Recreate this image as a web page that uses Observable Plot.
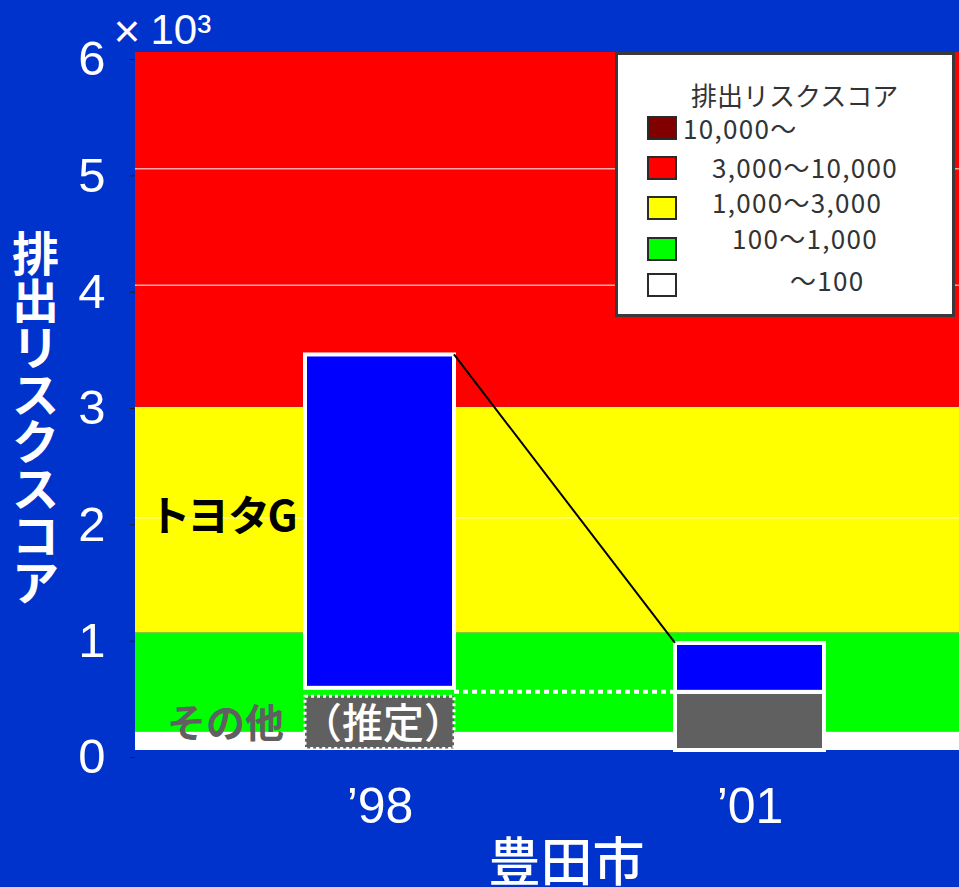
<!DOCTYPE html>
<html>
<head>
<meta charset="utf-8">
<script src="https://cdn.jsdelivr.net/npm/d3@7"></script>
<script src="https://cdn.jsdelivr.net/npm/@observablehq/plot@0.6"></script>
<style>
html, body { margin: 0; padding: 0; background: #0033cc; overflow: hidden; }
#wrap { position: relative; width: 959px; height: 887px; overflow: hidden; }
#legend { position: absolute; left: 615px; top: 52px; width: 340px; height: 265px; box-sizing: border-box;
  background: #ffffff; border: 3px solid #3a3a3a; font-family: "Noto Sans CJK JP", sans-serif; color: #333; font-size: 26px; }
#legend .t { position: absolute; line-height: 30px; white-space: nowrap; }
#legend .t.item { letter-spacing: 1.3px; }
#legend .sw { position: absolute; width: 30px; height: 24px; box-sizing: border-box; border: 2px solid #2a2a2a; }
svg text.palt { font-feature-settings: "palt" 1; }
</style>
</head>
<body>
<div id="wrap"></div>
<script>
// ---- data ----
const years = ["’98", "’01"];
const otherScore = [0.50, 0.50];     // その他 (×10³)
const toyotaScore = [2.90, 0.42];    // トヨタG (×10³)
const estimated = [true, false];
const bandLower = [0, 0.16, 1.01, 2.95];
const bandUpper = [0.16, 1.01, 2.95, 6];
const bandColors = ["#ffffff", "#00ff00", "#ffff00", "#ff0000"];
const yTicks = [0, 1, 2, 3, 4, 5, 6];
const gridValues = [2, 4, 5];
const yTitle = "排出リスクスコア";
const xTitle = "豊田市";
const unitTimes = "×";
const unitBase = "10³";
const legendTitle = "排出リスクスコア";
const legendLabels = ["10,000～", "3,000～10,000", "1,000～3,000", "100～1,000", "～100"];
const legendColors = ["#800000", "#ff0000", "#ffff00", "#00ff00", "#ffffff"];

const rows = years.map((year, i) => ({
  year, other: otherScore[i], toyota: toyotaScore[i],
  total: otherScore[i] + toyotaScore[i], estimated: estimated[i]
}));
const bands = bandLower.map((lo, i) => ({lo, hi: bandUpper[i], color: bandColors[i]}));
const est = rows.filter(d => d.estimated);
const meas = rows.filter(d => !d.estimated);

const bw = s => (typeof s.bandwidth === "function" ? s.bandwidth() : s.bandwidth);

const otherLink = (index, {x, y}) => {
  const a = rows[0], b = rows[1];
  return d3.create("svg:line")
    .attr("x1", x(a.year) + bw(x)).attr("y1", y(a.other))
    .attr("x2", x(b.year)).attr("y2", y(b.other))
    .attr("stroke", "white").attr("stroke-width", 4).attr("stroke-dasharray", "5,4").node();
};
const totalLink = (index, {x, y}) => {
  const a = rows[0], b = rows[1];
  return d3.create("svg:line")
    .attr("x1", x(a.year) + bw(x)).attr("y1", y(a.total))
    .attr("x2", x(b.year)).attr("y2", y(b.total))
    .attr("stroke", "black").attr("stroke-width", 2).node();
};

const jp = "Noto Sans CJK JP, sans-serif";

const chart = Plot.plot({
  width: 959, height: 887,
  marginLeft: 135, marginRight: 0, marginTop: 52, marginBottom: 137,
  style: {background: "#0033cc", fontFamily: "Liberation Sans, Arial, sans-serif", overflow: "visible"},
  x: {type: "band", domain: years, range: [135, 993], paddingInner: 0.598, paddingOuter: 0.4555, align: 0.5},
  y: {domain: [0, 6]},
  color: {type: "identity"},
  marks: [
    Plot.rect(bands, {y1: "lo", y2: "hi", fill: "color"}),
    Plot.ruleY(gridValues, {stroke: "white", strokeWidth: 1}),
    otherLink,
    Plot.barY(est, {x: "year", y1: 0, y2: "other", fill: "#606060", stroke: "white", strokeWidth: 3, strokeDasharray: "3,3", insetTop: 4.5, insetBottom: 1.5}),
    Plot.barY(est, {x: "year", y1: "other", y2: "total", fill: "#0000ff", stroke: "white", strokeWidth: 4, insetBottom: 4}),
    Plot.barY(meas, {x: "year", y1: 0, y2: "other", fill: "#606060", stroke: "white", strokeWidth: 4}),
    Plot.barY(meas, {x: "year", y1: "other", y2: "total", fill: "#0000ff", stroke: "white", strokeWidth: 4}),
    totalLink,
    Plot.axisY({ticks: yTicks, tickSize: 5, stroke: "#222", fill: "white", fontSize: 49, tickPadding: 25, dy: 7, label: null, tickFormat: d => String(d)}),
    Plot.axisX({tickSize: 0, tickPadding: 37, fontSize: 50, fill: "white", label: null}),
    Plot.text([unitTimes], {text: d => d, frameAnchor: "top-left", lineAnchor: "bottom", textAnchor: "start", dx: -22, dy: -6, fontSize: 46, fill: "white"}),
    Plot.text([unitBase], {text: d => d, frameAnchor: "top-left", lineAnchor: "bottom", textAnchor: "start", dx: 15, dy: -9, fontSize: 42, fill: "white"}),
    Plot.text([yTitle], {text: d => d.split("").join("\n"), frameAnchor: "left", textAnchor: "middle", dx: -100, dy: 19, fontSize: 47, lineHeight: 1, fill: "white", fontWeight: "bold", fontFamily: jp}),
    Plot.text([xTitle], {text: d => d, frameAnchor: "bottom", lineAnchor: "top", dx: 19, dy: 94, fontSize: 52, fill: "white", fontWeight: 500, fontFamily: jp}),
    Plot.text(est, {x: "year", y: d => 2, text: () => "トヨタG", textAnchor: "start", dx: -227, fontSize: 42, fill: "black", fontWeight: "bold", fontFamily: jp}),
    Plot.text(est, {x: "year", y: d => d.other / 2, text: () => "その他", textAnchor: "end", dx: -96, dy: 3, fontSize: 39, fill: "#606060", fontWeight: "bold", fontFamily: jp}),
    Plot.text(est, {x: "year", y: d => d.other / 2, text: () => "（推定）", textAnchor: "middle", dx: 3, dy: 3, fontSize: 41, fill: "white", fontWeight: 500, fontFamily: jp})
  ]
});

d3.select(chart).selectAll("text").filter(function () { return this.textContent === "トヨタG"; })
  .classed("palt", true);

const wrap = document.getElementById("wrap");
wrap.appendChild(chart);

// legend
const legendSwatchTop = [64, 104, 144, 185, 221];
const legendTextLeft = [68, 97, 97, 117, 175];
const legendTextCenter = [76, 115, 150, 186, 228];
const lg = document.createElement("div");
lg.id = "legend";
const title = document.createElement("div");
title.className = "t";
title.style.left = "73px";
title.style.top = (40 - 15) + "px";
title.textContent = legendTitle;
lg.appendChild(title);
legendLabels.forEach((lab, i) => {
  const sw = document.createElement("div");
  sw.className = "sw";
  sw.style.left = "29px";
  sw.style.top = (legendSwatchTop[i] - 3) + "px";
  sw.style.background = legendColors[i];
  lg.appendChild(sw);
  const t = document.createElement("div");
  t.className = "t item";
  t.style.left = (legendTextLeft[i] - 3) + "px";
  t.style.top = (legendTextCenter[i] - 3 - 15) + "px";
  t.textContent = lab;
  lg.appendChild(t);
});
wrap.appendChild(lg);
</script>
</body>
</html>
